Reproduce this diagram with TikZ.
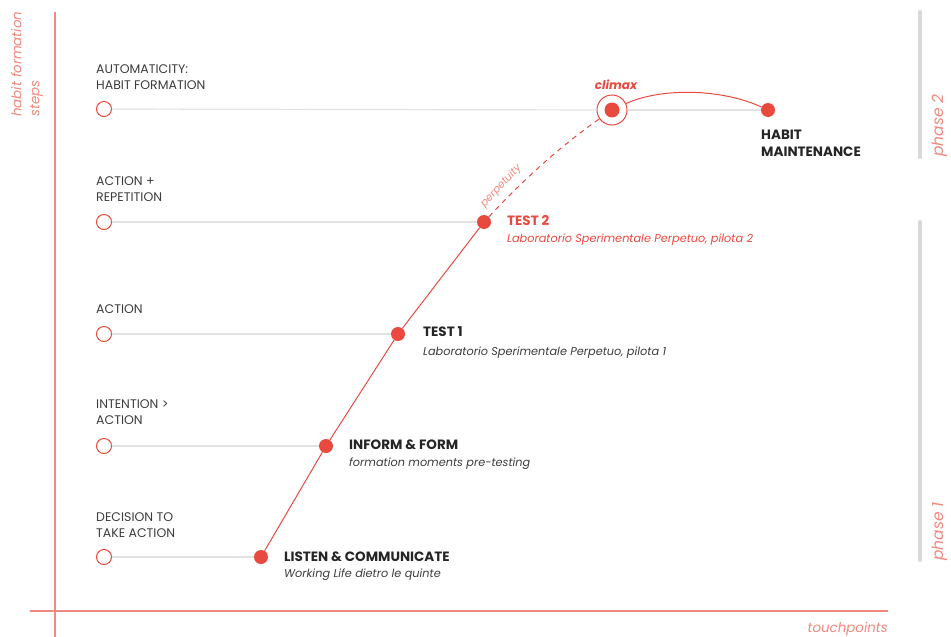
\documentclass[tikz,border=0pt]{standalone}
\usepackage{fontspec}
\setmainfont{Poppins}
\definecolor{accent}{HTML}{E84A3F}
\definecolor{axisred}{HTML}{F08A80}
\definecolor{softred}{HTML}{F0887C}
\definecolor{guide}{HTML}{E2E2E2}
\definecolor{barg}{HTML}{D8D8D8}
\definecolor{ink}{HTML}{252525}
\definecolor{soft}{HTML}{3C3C3C}
\begin{document}
\begin{tikzpicture}[x=1pt,y=-1pt,
  % multi-line nodes: the base anchor sits on the last line
  stepname/.style={anchor=base west, align=left, inner sep=0,
    font=\fontsize{12.5}{16}\selectfont, text=soft},
  hollow/.style={circle, draw=accent, fill=white, line width=1pt,
    minimum size=15pt, inner sep=0},
  dot/.style={circle, fill=accent, minimum size=14pt, inner sep=0},
  title/.style={anchor=base west, inner sep=0,
    font=\fontsize{13.5}{16}\selectfont\bfseries, text=ink},
  subtitle/.style={anchor=base west, inner sep=0,
    font=\fontsize{11.3}{14}\selectfont\itshape, text=soft},
  axis/.style={draw=axisred, line width=1.2pt},
  guideline/.style={draw=guide, line width=1.2pt},
  phasebar/.style={draw=barg, line width=4pt, line cap=round},
  axislabel/.style={inner sep=0, font=\fontsize{13.4}{18}\selectfont\itshape, text=softred},
  phaselabel/.style={inner sep=0, rotate=90, anchor=north west,
    font=\fontsize{15.5}{18}\selectfont\itshape, text=softred},
  path/.style={draw=accent, line width=1pt}
]
\useasboundingbox (0,0) rectangle (951,637);

% axes
\coordinate (ytop) at (55,12);
\coordinate (ybot) at (55,637);
\coordinate (xleft) at (30,611);
\coordinate (xright) at (888,611);
\draw[axis] (ytop) -- (ybot);
\draw[axis] (xleft) -- (xright);
\node[axislabel, rotate=90, anchor=north west, align=left] (ylab) at (11,117)
  {habit formation\\steps};
\node[axislabel, anchor=base east] (xlab) at (888,632) {touchpoints};

% phases
\coordinate (p2top) at (920,12);
\coordinate (p2bot) at (920,157);
\coordinate (p1top) at (920,222);
\coordinate (p1bot) at (920,560);
\draw[phasebar] (p2top) -- (p2bot);
\draw[phasebar] (p1top) -- (p1bot);
\node[phaselabel] (ph2) at (932,157) {phase 2};
\node[phaselabel] (ph1) at (932,561) {phase 1};

% step markers on the vertical axis
\node[hollow] (s1) at (104,109) {};
\node[hollow] (s2) at (104,222) {};
\node[hollow] (s3) at (104,334) {};
\node[hollow] (s4) at (104,446) {};
\node[hollow] (s5) at (104,557) {};

\node[stepname] (l1) at (96,89.5) {AUTOMATICITY:\\HABIT FORMATION};
\node[stepname] (l2) at (96,201.5) {ACTION +\\REPETITION};
\node[stepname] (l3) at (96,313) {ACTION};
\node[stepname] (l4) at (96,424) {INTENTION >\\ACTION};
\node[stepname] (l5) at (96,537) {DECISION TO\\TAKE ACTION};

% touchpoints
\node[dot] (t1) at (261,557) {};
\node[dot] (t2) at (326,446) {};
\node[dot] (t3) at (398,334) {};
\node[dot] (t4) at (484,222) {};
\node[circle, draw=accent, fill=white, line width=1pt, minimum size=30pt, inner sep=0] (climax) at (612,110) {};
\node[dot, minimum size=15pt] (cdot) at (612,110) {};
\node[dot] (hm) at (768,110) {};

% guide lines
\draw[guideline] (s1) -- (climax);
\draw[guideline] (climax) -- (hm);
\draw[guideline] (s2) -- (t4);
\draw[guideline] (s3) -- (t3);
\draw[guideline] (s4) -- (t2);
\draw[guideline] (s5) -- (t1);

% progression
\draw[path] (t1) -- (t2) -- (t3) -- (t4);
\draw[path, dashed, dash pattern=on 5pt off 4.5pt] (t4) .. controls (525,178) and (562,145) .. (climax);
\draw[path] (climax) .. controls (660,88) and (720,88) .. (hm);

% labels
\node[anchor=base, inner sep=0, font=\fontsize{12}{14}\selectfont\bfseries\itshape, text=accent] (clab) at (616,89) {climax};
\node[anchor=base west, align=left, inner sep=0, font=\fontsize{13.5}{17}\selectfont\bfseries, text=ink] (hmlab) at (761,156) {HABIT\\MAINTENANCE};
\node[anchor=base, rotate=47, inner sep=0, font=\fontsize{10.5}{12}\selectfont\itshape, text=softred] (perp) at (503,188) {perpetuity};

\node[title, text=accent] (n4) at (507,225) {TEST 2};
\node[subtitle, text=accent] (d4) at (507,242) {Laboratorio Sperimentale Perpetuo, pilota 2};
\node[title] (n3) at (423,336) {TEST 1};
\node[subtitle] (d3) at (423,355) {Laboratorio Sperimentale Perpetuo, pilota 1};
\node[title] (n2) at (349,449) {INFORM \& FORM};
\node[subtitle] (d2) at (349,466) {formation moments pre-testing};
\node[title] (n1) at (284,561) {LISTEN \& COMMUNICATE};
\node[subtitle] (d1) at (284,577) {Working Life dietro le quinte};
\end{tikzpicture}
\end{document}
